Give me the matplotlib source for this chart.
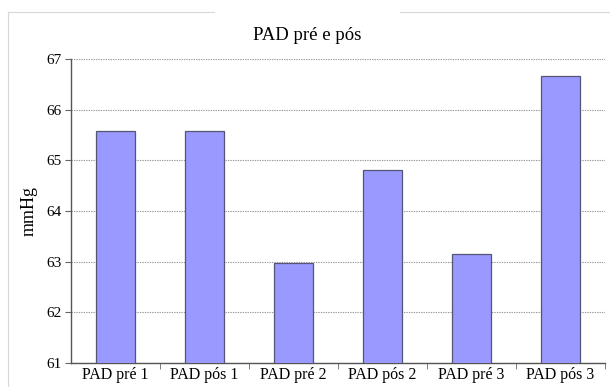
import matplotlib
matplotlib.use("Agg")
import matplotlib.pyplot as plt
from matplotlib.patches import Rectangle
from matplotlib.lines import Line2D

categories = ["PAD pré 1", "PAD pós 1", "PAD pré 2", "PAD pós 2", "PAD pré 3", "PAD pós 3"]
values = [65.57, 65.57, 62.97, 64.81, 63.16, 66.67]
yticks = [61, 62, 63, 64, 65, 66, 67]

plt.rcParams['font.family'] = ['Liberation Serif', 'DejaVu Serif']

fig = plt.figure(figsize=(6.10, 3.87), dpi=100)
fig.patch.set_facecolor("white")

# outer chart frame
fig.add_artist(Line2D([8/610, 8/610], [0, 1 - 12/387], transform=fig.transFigure, color="#d8d8d8", lw=0.8))
fig.add_artist(Line2D([8/610, 1], [1 - 12/387, 1 - 12/387], transform=fig.transFigure, color="#d8d8d8", lw=0.8))
fig.add_artist(Rectangle((215/610, 1 - 20/387), 185/610, 15/387, transform=fig.transFigure,
                         facecolor="white", edgecolor="none", zorder=3))

ax = fig.add_axes([71/610, 1 - 363/387, (605 - 71)/610, (363 - 59)/387])
x = list(range(len(categories)))
ax.bar(x, values, width=0.43, bottom=0, color="#9999FF", edgecolor="#555577", linewidth=0.9, zorder=3)
ax.set_ylim(61, 67)
ax.set_xlim(-0.5, len(categories) - 0.5)
ax.set_yticks(yticks)
ax.set_yticklabels([str(t) for t in yticks], fontsize=11)
ax.set_xticks(x)
ax.set_xticklabels(categories, fontsize=11.5)
ax.set_xticks([i + 0.5 for i in x[:-1]] + [len(categories) - 0.5], minor=True)
ax.tick_params(axis="x", which="major", length=0, pad=3)
ax.tick_params(axis="x", which="minor", length=4, color="#666666", direction="out")
ax.tick_params(axis="y", length=4, color="#666666", direction="out", pad=3)
ax.yaxis.grid(True, linestyle=(0, (1.2, 1)), color="#999999", linewidth=0.8, zorder=0)
ax.set_axisbelow(True)
for s in ["top", "right"]:
    ax.spines[s].set_visible(False)
for s in ["left", "bottom"]:
    ax.spines[s].set_color("#555555")
    ax.spines[s].set_linewidth(1.0)
ax.set_ylabel("mmHg", fontsize=13, labelpad=6)
fig.text(307/610, 1 - 35/387, "PAD pré e pós", ha="center", va="center", fontsize=13.5, zorder=5)

fig.savefig("out.png", dpi=100, facecolor="white")
